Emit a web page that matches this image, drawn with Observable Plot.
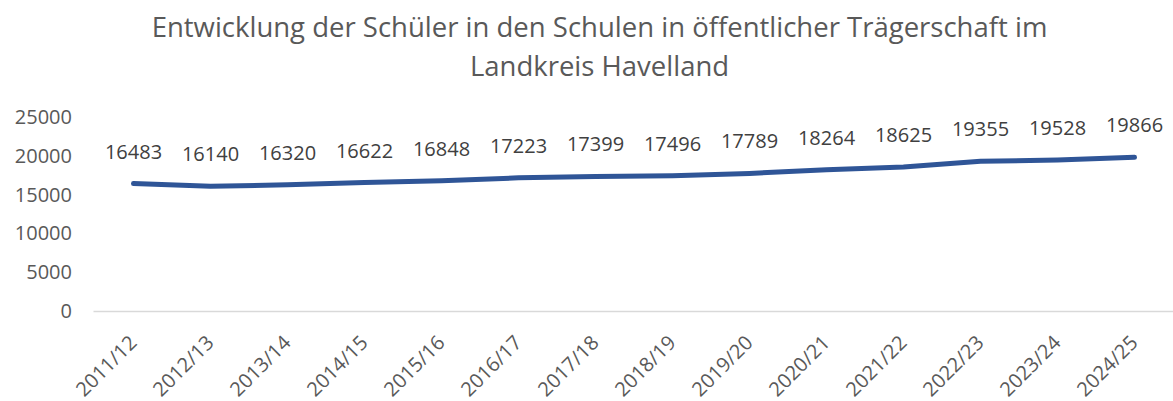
<!DOCTYPE html>
<html>
<head>
<meta charset="utf-8">
<script src="https://cdn.jsdelivr.net/npm/d3@7"></script>
<script src="https://cdn.jsdelivr.net/npm/@observablehq/plot@0.6"></script>
<style>
  html, body { margin: 0; padding: 0; background: #fff; }
  #wrap { width: 1173px; height: 401px; overflow: hidden; font-family: "Open Sans", sans-serif; }
  #title { height: 95px; box-sizing: border-box; padding-top: 7px; text-align: center; color: #595959;
           font-size: 27.5px; line-height: 39px; padding-left: 26px; white-space: nowrap; }
  svg { display: block; }
  #chart svg text { font-size: 20px; }
</style>
</head>
<body>
<div id="wrap">
  <div id="title">Entwicklung der Schüler in den Schulen in öffentlicher Trägerschaft im<br>Landkreis Havelland</div>
  <div id="chart"></div>
</div>
<script>
const years = ["2011/12","2012/13","2013/14","2014/15","2015/16","2016/17","2017/18","2018/19","2019/20","2020/21","2021/22","2022/23","2023/24","2024/25"];
const pupils = [16483,16140,16320,16622,16848,17223,17399,17496,17789,18264,18625,19355,19528,19866];
const yTicks = [0,5000,10000,15000,20000,25000];

const data = years.map((y, i) => ({year: y, value: pupils[i]}));

const chart = Plot.plot({
  width: 1173,
  height: 306,
  marginLeft: 93.5,
  marginRight: 0,
  marginTop: 22,
  marginBottom: 90,
  style: {fontFamily: "Open Sans, sans-serif", fontSize: "20px", color: "#595959", background: "#fff"},
  x: {type: "point", domain: years, padding: 0.5},
  y: {domain: [0, 25000]},
  marks: [
    Plot.axisY({ticks: yTicks, tickSize: 0, tickPadding: 22, label: null, fill: "#595959", tickFormat: d => String(d)}),
    Plot.axisX({tickSize: 0, tickRotate: -45, tickPadding: 28, label: null, fill: "#595959"}),
    Plot.ruleY([0], {stroke: "#d9d9d9", strokeWidth: 1.5}),
    Plot.line(data, {x: "year", y: "value", stroke: "#2f5597", strokeWidth: 5, strokeLinecap: "round", strokeLinejoin: "round"}),
    Plot.text(data, {x: "year", y: "value", text: d => String(d.value), dy: -25, lineAnchor: "bottom", fill: "#404040"})
  ]
});
document.getElementById("chart").appendChild(chart);
</script>
</body>
</html>
